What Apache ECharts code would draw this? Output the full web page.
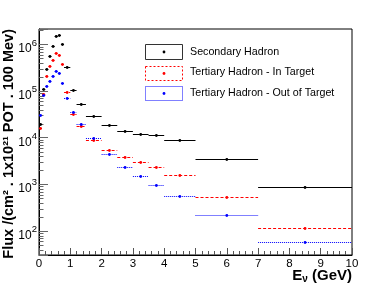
<!DOCTYPE html>
<html>
<head>
<meta charset="utf-8">
<script src="https://cdn.jsdelivr.net/npm/echarts@6/dist/echarts.min.js"></script>
<style>
html,body{margin:0;padding:0;background:#fff;}
#c{width:391px;height:285px;}
</style>
</head>
<body>
<div id="c"></div>
<script>
// Bin edges (GeV)
const binEdges = [0,0.1,0.2,0.3,0.4,0.5,0.6,0.7,0.8,1.0,1.2,1.5,2.0,2.5,3.0,3.5,4.0,5.0,7.0,10.0];
// Flux values per bin
const secondaryHadron = [19700,109600,294000,556000,947000,1520000,1580000,1030000,336000,106000,52800,29200,18300,13900,12200,11400,8800,3460,891];
const tertiaryInTarget = [16500,86400,207000,349000,474000,640000,600000,380000,97800,32500,17800,9150,5440,3900,3060,2390,1550,541,118];
const tertiaryOutTarget = [30200,82300,126000,162000,210000,269000,244000,152000,72000,36100,19500,9710,4480,2360,1510,993,577,223,59];
// Axis ticks
const xTicks = [0,1,2,3,4,5,6,7,8,9,10];
const yDecades = [10,100,1000,10000,100000,1000000];
const yMinorMult = [2,3,4,5,6,7,8,9];
const yMin = 30.6, yMax = 2.14e6;

const FONT = 'Liberation Sans';

function binData(vals){
  return vals.map((v,i)=>[binEdges[i], binEdges[i+1], v]);
}
function binRenderer(color, dash){
  return function(params, api){
    const lo = api.value(0), hi = api.value(1), v = api.value(2);
    const a = api.coord([lo, v]), b = api.coord([hi, v]);
    const c = api.coord([(lo+hi)/2, v]);
    const yy = Math.round(a[1]) + 0.5;
    return {type:'group', children:[
      {type:'line', shape:{x1:a[0], y1:yy, x2:b[0], y2:yy}, style:{stroke:color, lineWidth:1, lineDash:dash}},
      {type:'circle', shape:{cx:c[0], cy:yy, r:1.4}, style:{fill:color}}
    ]};
  };
}
const minorVals = [];
yDecades.forEach(d=>yMinorMult.forEach(m=>{const v=d*m; if(v>yMin && v<yMax) minorVals.push([0,v]);}));

const chart = echarts.init(document.getElementById('c'), null, {renderer:'canvas'});
chart.setOption({
  animation:false,
  backgroundColor:'#fff',
  grid:{left:39, right:39, top:29, bottom:30, show:true, borderColor:'#000', borderWidth:1, outerBoundsMode:'none'},
  xAxis:{
    type:'value', min:0, max:10, interval:1,
    axisLine:{show:true, lineStyle:{color:'#000', width:1}},
    axisTick:{show:true, inside:true, length:7, lineStyle:{color:'#555'}},
    minorTick:{show:true, splitNumber:5, length:4, lineStyle:{color:'#555'}},
    splitLine:{show:false},
    axisLabel:{color:'#000', fontFamily:FONT, fontSize:11.5, margin:3,
      formatter:function(v){return xTicks.indexOf(v)>=0 ? String(v) : '';}}
  },
  yAxis:{
    type:'log', logBase:10, min:yMin, max:yMax,
    axisLine:{show:true, lineStyle:{color:'#000', width:1}},
    axisTick:{show:true, inside:true, length:9, lineStyle:{color:'#666'}},
    splitLine:{show:false},
    axisLabel:{color:'#000', fontFamily:FONT, margin:2, padding:[9,0,0,0],
      formatter:function(v){
        const e = Math.log10(v);
        if (Math.abs(e-Math.round(e))<1e-6 && yDecades.indexOf(Math.round(Math.pow(10,Math.round(e))))>=0) {
          return '{b|10}{s|'+Math.round(e)+'}';
        }
        return '';
      },
      rich:{
        b:{fontFamily:FONT, fontSize:12, lineHeight:22, color:'#000'},
        s:{fontFamily:FONT, fontSize:9.5, lineHeight:10, verticalAlign:'top', color:'#000'}
      }
    }
  },
  graphic:[
    {type:'text', x:9, y:29, rotation:Math.PI/2, style:{text:'Flux /(cm² . 1x10²¹ POT . 100 Mev)', fontFamily:FONT, fontWeight:'bold', fontSize:14.5, fill:'#000', align:'right', verticalAlign:'middle'}},
    {type:'text', x:352, y:284, style:{text:'{a|E}{b|ν}{a| (GeV)}', align:'right', verticalAlign:'bottom',
      rich:{a:{fontFamily:FONT, fontWeight:'bold', fontSize:15, lineHeight:17, fill:'#000', color:'#000'},
            b:{fontFamily:FONT, fontWeight:'bold', fontSize:10, lineHeight:7, verticalAlign:'bottom', color:'#000'}}}},
    {type:'rect', shape:{x:145.5, y:44.5, width:37, height:15}, style:{fill:'none', stroke:'#333', lineWidth:1}},
    {type:'circle', shape:{cx:164, cy:52, r:1.4}, style:{fill:'#000'}},
    {type:'text', x:190, y:52.5, style:{text:'Secondary Hadron', fontFamily:FONT, fontSize:10.7, fill:'#000', verticalAlign:'middle'}},
    {type:'rect', shape:{x:145.5, y:66.5, width:37, height:14}, style:{fill:'none', stroke:'#f00', lineWidth:1, lineDash:[2,2]}},
    {type:'circle', shape:{cx:164, cy:73.5, r:1.4}, style:{fill:'#f00'}},
    {type:'text', x:190, y:72.5, style:{text:'Tertiary Hadron - In Target', fontFamily:FONT, fontSize:10.7, fill:'#000', verticalAlign:'middle'}},
    {type:'rect', shape:{x:145.5, y:86.5, width:37, height:14}, style:{fill:'none', stroke:'#00f', lineWidth:1, lineDash:[1,1]}},
    {type:'circle', shape:{cx:164, cy:93.5, r:1.4}, style:{fill:'#00f'}},
    {type:'text', x:190, y:93, style:{text:'Tertiary Hadron - Out of Target', fontFamily:FONT, fontSize:10.7, fill:'#000', verticalAlign:'middle'}}
  ],
  series:[
    {type:'custom', name:'yMinorTicks', data:minorVals, encode:{x:0,y:1}, silent:true,
      renderItem:function(params, api){
        const p = api.coord([api.value(0), api.value(1)]);
        const yy = Math.round(p[1]) + 0.5;
        return {type:'line', shape:{x1:p[0], y1:yy, x2:p[0]+4.5, y2:yy}, style:{stroke:'#666', lineWidth:1}};
      }},
    {type:'custom', name:'Secondary Hadron', data:binData(secondaryHadron), encode:{x:[0,1], y:2}, renderItem:binRenderer('#000', null)},
    {type:'custom', name:'Tertiary Hadron - In Target', data:binData(tertiaryInTarget), encode:{x:[0,1], y:2}, renderItem:binRenderer('#f00', [3,2])},
    {type:'custom', name:'Tertiary Hadron - Out of Target', data:binData(tertiaryOutTarget), encode:{x:[0,1], y:2}, renderItem:binRenderer('#00f', [1,1])}
  ]
});
</script>
</body>
</html>
